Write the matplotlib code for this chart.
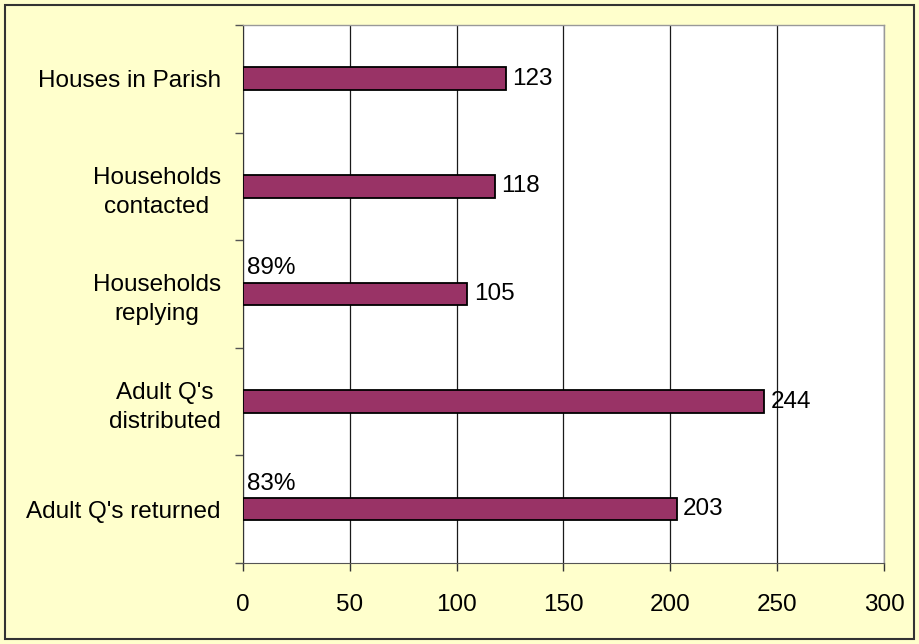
import matplotlib
matplotlib.use("Agg")
import matplotlib.pyplot as plt
from matplotlib.patches import Rectangle
import numpy as np

# data, top to bottom as shown
categories = [
    "Houses in Parish",
    "Households\ncontacted",
    "Households\nreplying",
    "Adult Q's\ndistributed",
    "Adult Q's returned",
]
values = [123, 118, 105, 244, 203]
percent_labels = ["", "", "89%", "", "83%"]
x_ticks = [0, 50, 100, 150, 200, 250, 300]

BAR_COLOR = "#993366"
BG_COLOR = "#FFFFCC"
FS = 17.5

plt.rcParams["font.family"] = ["Liberation Sans", "DejaVu Sans"]

fig = plt.figure(figsize=(9.19, 6.44), dpi=100, facecolor=BG_COLOR)
ax = fig.add_axes([0.2644, 0.1258, 0.6975, 0.8354])
ax.set_facecolor("white")

n = len(categories)
y = np.arange(n)
bar_h = 0.21
ax.barh(y, values, height=bar_h, color=BAR_COLOR, edgecolor="black", linewidth=1.3, zorder=3)

for yi, v, pct in zip(y, values, percent_labels):
    ax.text(v + 3, yi, str(v), va="center", ha="left", fontsize=FS, zorder=4)
    if pct:
        ax.text(2, yi - bar_h / 2 - 0.03, pct, va="bottom", ha="left", fontsize=FS, zorder=4)

ax.set_xlim(0, 300)
ax.set_ylim(n - 0.5, -0.5)
ax.set_xticks(x_ticks)
ax.set_xticklabels([str(t) for t in x_ticks], fontsize=FS)
ax.tick_params(axis="x", length=6, width=1, color="#333333", pad=16)

ax.set_yticks(y)
ax.set_yticklabels(categories, fontsize=FS, multialignment="center", linespacing=1.4)
ax.tick_params(axis="y", which="major", length=0, pad=16)
ax.set_yticks(np.arange(-0.5, n + 0.5, 1.0), minor=True)
ax.tick_params(axis="y", which="minor", length=6, width=1, color="#555555")

ax.grid(axis="x", color="#1a1a1a", linewidth=0.9, zorder=1)
ax.set_axisbelow(True)

for side in ["top", "right"]:
    ax.spines[side].set_color("#999999")
    ax.spines[side].set_linewidth(1)
ax.spines["left"].set_color("#333333")
ax.spines["bottom"].set_color("#555555")

# outer chart border
fig.patches.append(Rectangle((0.0054, 0.0078), 0.989, 0.984, transform=fig.transFigure,
                             fill=False, edgecolor="#333333", linewidth=1.5))

fig.savefig("out.png", dpi=100, facecolor=BG_COLOR)
